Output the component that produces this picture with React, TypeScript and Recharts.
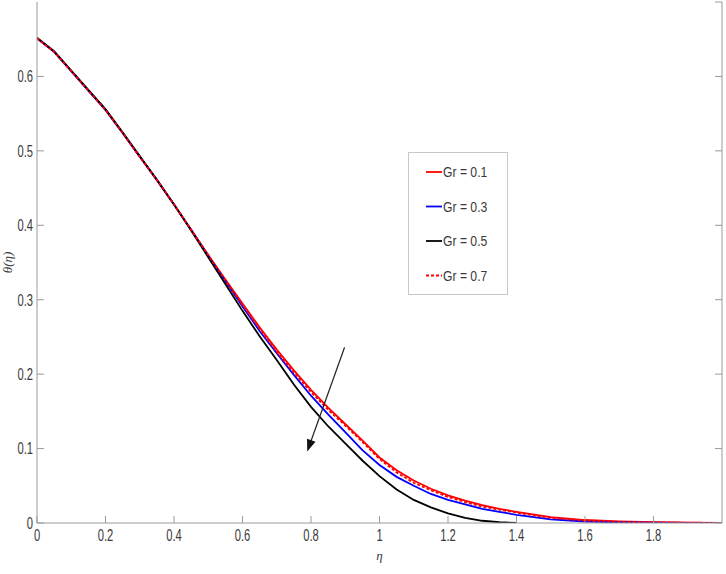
import React from 'react';
import { LineChart, Line, XAxis, YAxis, Legend, ReferenceLine } from 'recharts';

const eta = [0, 0.05, 0.1, 0.15, 0.2, 0.25, 0.3, 0.35, 0.4, 0.45, 0.5, 0.55, 0.6, 0.65, 0.7, 0.75, 0.8, 0.85, 0.9, 0.95, 1.0, 1.05, 1.1, 1.15, 1.2, 1.25, 1.3, 1.35, 1.4, 1.5, 1.6, 1.7, 1.8, 1.9, 2.0];

const gr01 = [0.651, 0.633, 0.607, 0.581, 0.555, 0.524, 0.492, 0.461, 0.428, 0.394, 0.360, 0.327, 0.295, 0.263, 0.233, 0.205, 0.179, 0.155, 0.133, 0.111, 0.088, 0.071, 0.057, 0.046, 0.037, 0.030, 0.024, 0.019, 0.015, 0.008, 0.004, 0.002, 0.001, 0.0005, 0];
const gr03 = [0.651, 0.633, 0.607, 0.581, 0.555, 0.524, 0.492, 0.461, 0.428, 0.394, 0.359, 0.325, 0.291, 0.258, 0.228, 0.199, 0.171, 0.146, 0.122, 0.098, 0.078, 0.062, 0.050, 0.039, 0.031, 0.025, 0.019, 0.015, 0.011, 0.005, 0.002, 0.001, 0.0005, 0, 0];
const gr05 = [0.652, 0.634, 0.608, 0.582, 0.556, 0.525, 0.493, 0.461, 0.428, 0.393, 0.357, 0.321, 0.285, 0.251, 0.219, 0.186, 0.156, 0.130, 0.107, 0.084, 0.063, 0.045, 0.031, 0.021, 0.013, 0.007, 0.003, 0.001, 0.0, null, null, null, null, null, null];
const gr07 = [0.651, 0.633, 0.607, 0.581, 0.555, 0.524, 0.492, 0.461, 0.428, 0.394, 0.360, 0.326, 0.293, 0.261, 0.230, 0.202, 0.176, 0.152, 0.131, 0.109, 0.086, 0.068, 0.054, 0.044, 0.035, 0.028, 0.022, 0.018, 0.014, 0.007, 0.003, 0.0015, 0.001, 0.0005, 0];

const xTicks = [0, 0.2, 0.4, 0.6, 0.8, 1, 1.2, 1.4, 1.6, 1.8];
const xFrameTicks = [0, 0.2, 0.4, 0.6, 0.8, 1, 1.2, 1.4, 1.6, 1.8, 2];
const yTicks = [0, 0.1, 0.2, 0.3, 0.4, 0.5, 0.6];
const yFrameTicks = [0, 0.1, 0.2, 0.3, 0.4, 0.5, 0.6, 0.7];

const seriesNames = ['Gr = 0.1', 'Gr = 0.3', 'Gr = 0.5', 'Gr = 0.7'];
const seriesKeys = ['gr01', 'gr03', 'gr05', 'gr07'];
const seriesColors = ['#ff0000', '#0000ff', '#000000', '#ff0000'];
const seriesDash = ['', '', '', '3 2'];

const arrowStart = [0.898, 0.236];
const arrowEnd = [0.789, 0.096];

const data = eta.map((e, i) => ({ eta: e, gr01: gr01[i], gr03: gr03[i], gr05: gr05[i], gr07: gr07[i] }));

const AXIS = '#9a9a9a';
const TXT = '#3a3a3a';
const FONT = '"Liberation Sans", Arial, sans-serif';
const SX = 0.68;

const XTick = (props: any) => {
  const { x, y, payload } = props;
  return (
    <g transform={`translate(${x},${y})`}>
      <text transform={`scale(${SX},1)`} textAnchor="middle" dy="0.71em" fontSize={16.5} fontFamily={FONT} fill={TXT}>
        {String(payload.value)}
      </text>
    </g>
  );
};

const YTick = (props: any) => {
  const { x, y, payload } = props;
  return (
    <g transform={`translate(${x},${y})`}>
      <text transform={`scale(${SX},1)`} textAnchor="end" dy="0.355em" fontSize={16.5} fontFamily={FONT} fill={TXT}>
        {String(payload.value)}
      </text>
    </g>
  );
};

const NoTick = () => <g />;

const Arrow = (props: any) => {
  const { x1, y1, x2, y2 } = props;
  const dx = x2 - x1;
  const dy = y2 - y1;
  const len = Math.sqrt(dx * dx + dy * dy);
  const ux = dx / len;
  const uy = dy / len;
  const hl = 12;
  const hw = 4.5;
  const bx = x2 - ux * hl;
  const by = y2 - uy * hl;
  const p1 = `${bx - uy * hw},${by + ux * hw}`;
  const p2 = `${bx + uy * hw},${by - ux * hw}`;
  return (
    <g>
      <line x1={x1} y1={y1} x2={bx + ux * 2} y2={by + uy * 2} stroke="#222" strokeWidth={1.3} />
      <polygon points={`${x2},${y2} ${p1} ${p2}`} fill="#111" />
    </g>
  );
};

const LegendBox = () => (
  <svg width={100} height={143} style={{ display: 'block' }}>
    <rect x={0.5} y={0.5} width={99} height={142} fill="#fff" stroke="#c8c8c8" strokeWidth={1} />
    {seriesNames.map((n, i) => {
      const cy = 20 + i * 34.5;
      return (
        <g key={n}>
          <line x1={18} x2={34} y1={cy} y2={cy} stroke={seriesColors[i]} strokeWidth={1.8} strokeDasharray={seriesDash[i] || undefined} />
          <text x={35 / 0.84} y={cy} dy="0.36em" transform="scale(0.84,1)" fontSize={14.5} fontFamily={FONT} fill={TXT}>
            {n}
          </text>
        </g>
      );
    })}
  </svg>
);

const YLabel = (props: any) => {
  const vb = props.viewBox || {};
  const cx = 7;
  const cy = vb.y + vb.height / 2;
  return (
    <text x={cx} y={cy} transform={`rotate(-90, ${cx}, ${cy})`} textAnchor="middle" dy="0.35em" fontSize={13} fontStyle="italic" fontFamily='"Liberation Serif", "Times New Roman", serif' fill={TXT}>
      θ(η)
    </text>
  );
};

const XLabel = (props: any) => {
  const vb = props.viewBox || {};
  const cx = vb.x + vb.width / 2;
  return (
    <text x={cx} y={555} textAnchor="middle" dy="0.35em" fontSize={13} fontStyle="italic" fontFamily='"Liberation Serif", "Times New Roman", serif' fill={TXT}>
      η
    </text>
  );
};

export default function App() {
  return (
    <div style={{ position: 'absolute', left: 0, top: 0, width: 726, height: 574, background: '#fff' }}>
      <LineChart width={726} height={574} data={data} margin={{ top: 2, right: 0, left: 0, bottom: 0 }}>
        <XAxis
          dataKey="eta"
          type="number"
          domain={[0, 2]}
          ticks={xTicks}
          allowDataOverflow
          height={51}
          stroke={AXIS}
          tickSize={-7}
          tickMargin={13}
          tick={<XTick />}
          tickLine={{ stroke: AXIS }}
          axisLine={{ stroke: AXIS }}
          label={<XLabel />}
        />
        <XAxis
          xAxisId="top"
          orientation="top"
          dataKey="eta"
          type="number"
          domain={[0, 2]}
          ticks={xFrameTicks}
          allowDataOverflow
          height={0}
          stroke={AXIS}
          tickSize={-7}
          tick={<NoTick />}
          tickLine={{ stroke: AXIS }}
          axisLine={{ stroke: AXIS }}
        />
        <YAxis
          type="number"
          domain={[0, 0.7]}
          ticks={yTicks}
          allowDataOverflow
          width={37}
          stroke={AXIS}
          tickSize={-7}
          tickMargin={11}
          tick={<YTick />}
          tickLine={{ stroke: AXIS }}
          axisLine={{ stroke: AXIS }}
          label={<YLabel />}
        />
        <YAxis
          yAxisId="right"
          orientation="right"
          type="number"
          domain={[0, 0.7]}
          ticks={yFrameTicks}
          allowDataOverflow
          width={4}
          stroke={AXIS}
          tickSize={-7}
          tick={<NoTick />}
          tickLine={{ stroke: AXIS }}
          axisLine={{ stroke: AXIS }}
        />
        {seriesKeys.map((k, i) => (
          <Line
            key={k}
            dataKey={k}
            name={seriesNames[i]}
            type="linear"
            stroke={seriesColors[i]}
            strokeWidth={1.8}
            strokeDasharray={seriesDash[i] || undefined}
            dot={false}
            activeDot={false}
            isAnimationActive={false}
          />
        ))}
        <ReferenceLine
          segment={[{ x: arrowStart[0], y: arrowStart[1] }, { x: arrowEnd[0], y: arrowEnd[1] }]}
          shape={<Arrow />}
          ifOverflow="visible"
        />
        <Legend
          layout="vertical"
          align="center"
          verticalAlign="middle"
          wrapperStyle={{ position: 'absolute', left: 408, top: 152, width: 100, height: 143 }}
          content={<LegendBox />}
        />
      </LineChart>
    </div>
  );
}
